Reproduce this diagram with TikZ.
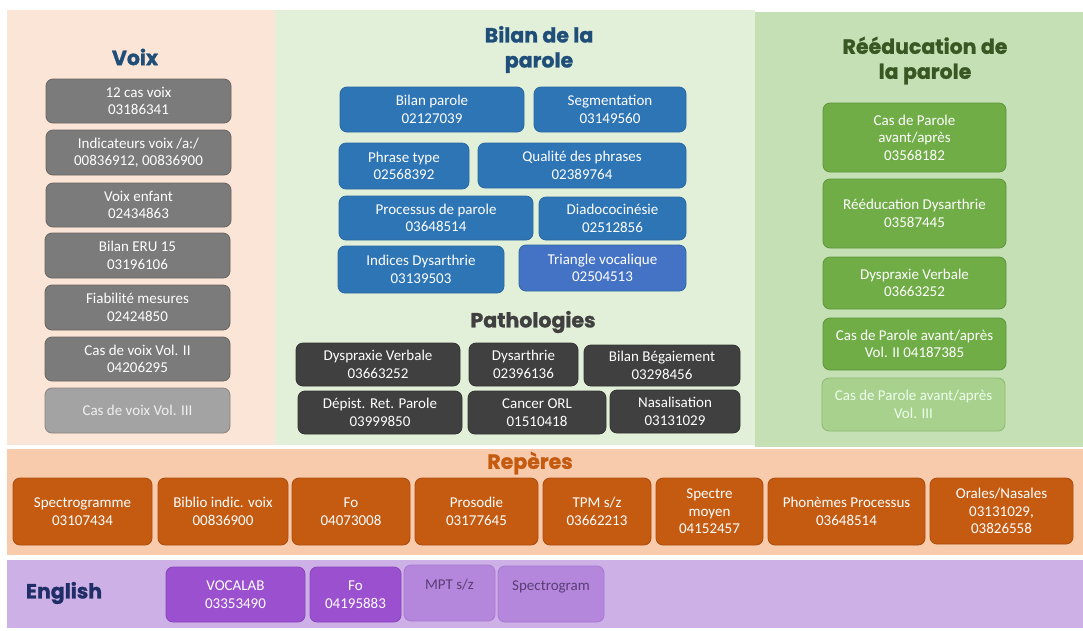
\documentclass[tikz,border=0pt]{standalone}
\usepackage{fontspec}
\setmainfont{Carlito}
\newfontfamily\titlefont{Poppins}[BoldFeatures={FakeBold=1.2}]

% panel backgrounds
\definecolor{voixbg}{HTML}{FBE5D6}
\definecolor{bilanbg}{HTML}{E2F0D9}
\definecolor{reedbg}{HTML}{C5E0B4}
\definecolor{reperbg}{HTML}{F8CBAD}
\definecolor{englbg}{HTML}{CDB0E6}
% boxes
\definecolor{graybox}{HTML}{7B7B7B}
\definecolor{grayedge}{HTML}{6A6462}
\definecolor{lgraybox}{HTML}{A3A3A3}
\definecolor{lgrayedge}{HTML}{8C8480}
\definecolor{bluebox}{HTML}{2E75B6}
\definecolor{blueedge}{HTML}{2A68A2}
\definecolor{blue2box}{HTML}{4472C4}
\definecolor{darkbox}{HTML}{404040}
\definecolor{darkedge}{HTML}{333333}
\definecolor{greenbox}{HTML}{70AD47}
\definecolor{greenedge}{HTML}{5E943A}
\definecolor{lgreenbox}{HTML}{A9D18E}
\definecolor{lgreenedge}{HTML}{8DB872}
\definecolor{orangebox}{HTML}{C55A11}
\definecolor{orangeedge}{HTML}{A94D0E}
\definecolor{purplebox}{HTML}{9B50CF}
\definecolor{purpleedge}{HTML}{8A45BC}
\definecolor{lpurplebox}{HTML}{B587DC}
\definecolor{lpurpleedge}{HTML}{A878D2}
\definecolor{lpurpletext}{HTML}{5B3D77}
% headings
\definecolor{voixhead}{HTML}{1F4E79}
\definecolor{pathhead}{HTML}{404040}
\definecolor{reedhead}{HTML}{385723}
\definecolor{reperhead}{HTML}{C55A11}
\definecolor{englhead}{HTML}{1F2E66}

\tikzset{
  panel/.style={draw=none, inner sep=0pt, outer sep=0pt},
  cell/.style={rounded corners=7pt, line width=0.8pt, inner sep=0pt, align=center,
    text=white, font=\fontsize{15}{17.5}\selectfont},
  voixcell/.style={cell, fill=graybox, draw=grayedge},
  voixcelllight/.style={cell, fill=lgraybox, draw=lgrayedge, text=white!94!black},
  bluecell/.style={cell, fill=bluebox, draw=blueedge},
  bluecelltwo/.style={cell, fill=blue2box, draw=blueedge},
  darkcell/.style={cell, fill=darkbox, draw=darkedge},
  greencell/.style={cell, fill=greenbox, draw=greenedge},
  greencelllight/.style={cell, fill=lgreenbox, draw=lgreenedge, text=white!92!green},
  orangecell/.style={cell, fill=orangebox, draw=orangeedge},
  purplecell/.style={cell, fill=purplebox, draw=purpleedge},
  purplecelllight/.style={cell, fill=lpurplebox, draw=lpurpleedge, text=lpurpletext},
  heading/.style={font=\titlefont\bfseries\fontsize{20.5}{25}\selectfont, align=center, inner sep=0pt},
}

% \cell{style}{name}{x1}{y1}{x2}{y2}{text}
\newcommand\cell[7]{%
  \node[#1, minimum width={(#5)-(#3)}, minimum height={(#6)-(#4)}]
    (#2) at ({((#3)+(#5))/2},{((#4)+(#6))/2}) {#7};}

\begin{document}
\begin{tikzpicture}[x=1pt, y=-1pt]
  \fill[white] (0,0) rectangle (1083,630);
  \useasboundingbox (0,0) rectangle (1083,630);

  % panels
  \cell{panel, fill=voixbg}{voixpanel}{7}{10}{275}{445}{}
  \cell{panel, fill=bilanbg}{bilanpanel}{275}{10}{755}{445}{}
  \cell{panel, fill=reedbg}{reedpanel}{755}{12}{1083}{447}{}
  \cell{panel, fill=reperbg}{reperpanel}{7}{449}{1083}{555}{}
  \cell{panel, fill=englbg}{englpanel}{7}{560}{1083}{628}{}

  % headings
  \node[heading, text=voixhead] (hvoix) at (135,57) {Voix};
  \node[heading, text=voixhead] (hbilan) at (539,49.5) {Bilan de la\\parole};
  \node[heading, text=pathhead] (hpath) at (533,322) {Pathologies};
  \node[heading, text=reedhead] (hreed) at (925,60.5) {Rééducation de\\la parole};
  \node[heading, text=reperhead] (hreper) at (530,463) {Repères};
  \node[heading, text=englhead] (hengl) at (64,593) {English};

  % Voix
  \cell{voixcell}{v1}{46}{79}{231}{123}{12 cas voix\\03186341}
  \cell{voixcell}{v2}{46}{130}{231}{175}{Indicateurs voix /a:/\\00836912, 00836900}
  \cell{voixcell}{v3}{46}{183}{231}{227}{Voix enfant\\02434863}
  \cell{voixcell}{v4}{45}{233}{230}{278}{Bilan ERU 15\\03196106}
  \cell{voixcell}{v5}{45}{285}{230}{330}{Fiabilité mesures\\02424850}
  \cell{voixcell}{v6}{45}{337}{230}{381}{Cas de voix Vol. II\\04206295}
  \cell{voixcelllight}{v7}{45}{388}{230}{433}{Cas de voix Vol. III}

  % Bilan de la parole
  \cell{bluecell}{b1}{340}{87}{524}{132}{Bilan parole\\02127039}
  \cell{bluecell}{b2}{534}{87}{686}{132}{Segmentation\\03149560}
  \cell{bluecell}{b3}{339}{143}{469}{189}{Phrase type\\02568392}
  \cell{bluecell}{b4}{478}{143}{686}{188}{Qualité des phrases\\02389764}
  \cell{bluecell}{b5}{339}{196}{533}{240}{Processus de parole\\03648514}
  \cell{bluecell}{b6}{539}{197}{686}{240}{Diadococinésie\\02512856}
  \cell{bluecell}{b7}{338}{246}{504}{293}{Indices Dysarthrie\\03139503}
  \cell{bluecelltwo}{b8}{519}{245}{686}{291}{Triangle vocalique\\02504513}

  % Pathologies
  \cell{darkcell}{p1}{296}{343}{460}{386}{Dyspraxie Verbale\\03663252}
  \cell{darkcell}{p2}{469}{343}{578}{386}{Dysarthrie\\02396136}
  \cell{darkcell}{p3}{584}{345}{740}{386}{Bilan Bégaiement\\03298456}
  \cell{darkcell}{p4}{298}{391}{462}{434}{Dépist. Ret. Parole\\03999850}
  \cell{darkcell}{p5}{468}{391}{606}{434}{Cancer ORL\\01510418}
  \cell{darkcell}{p6}{610}{390}{740}{433}{Nasalisation\\03131029}

  % Rééducation de la parole
  \cell{greencell}{g1}{823}{103}{1006}{172}{Cas de Parole\\avant/après\\03568182}
  \cell{greencell}{g2}{823}{179}{1006}{248}{Rééducation Dysarthrie\\03587445}
  \cell{greencell}{g3}{823}{257}{1006}{309}{Dyspraxie Verbale\\03663252}
  \cell{greencell}{g4}{823}{318}{1006}{370}{Cas de Parole avant/après\\Vol. II 04187385}
  \cell{greencelllight}{g5}{822}{378}{1005}{431}{Cas de Parole avant/après\\Vol. III}

  % Repères
  \cell{orangecell}{r1}{13}{478}{152}{545}{Spectrogramme\\03107434}
  \cell{orangecell}{r2}{158}{478}{288}{545}{Biblio indic. voix\\00836900}
  \cell{orangecell}{r3}{292}{478}{410}{545}{Fo\\04073008}
  \cell{orangecell}{r4}{415}{478}{538}{545}{Prosodie\\03177645}
  \cell{orangecell}{r5}{543}{478}{651}{545}{TPM s/z\\03662213}
  \cell{orangecell}{r6}{656}{478}{763}{545}{Spectre\\moyen\\04152457}
  \cell{orangecell}{r7}{768}{478}{925}{545}{Phonèmes Processus\\03648514}
  \cell{orangecell}{r8}{930}{478}{1073}{544}{Orales/Nasales\\03131029,\\03826558}

  % English
  \cell{purplecell}{e1}{166}{567}{305}{622}{VOCALAB\\03353490}
  \cell{purplecell}{e2}{310}{567}{401}{622}{Fo\\04195883}
  \cell{purplecelllight}{e3}{404}{565}{495}{621}{MPT s/z\\\phantom{0}}
  \cell{purplecelllight}{e4}{498}{566}{604}{622}{Spectrogram\\\phantom{0}}
\end{tikzpicture}
\end{document}
